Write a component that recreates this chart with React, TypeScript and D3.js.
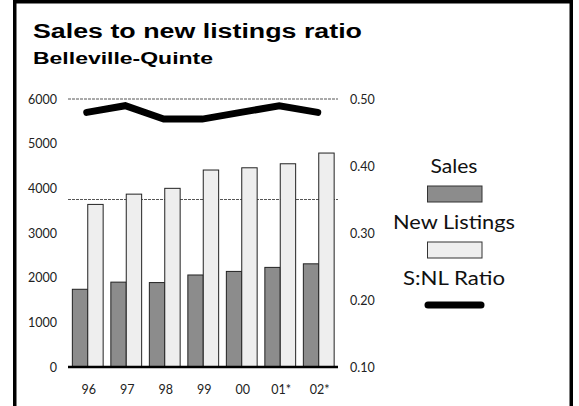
import React, { useEffect, useRef } from 'react';
import * as d3 from 'd3';

// chart data
const years = ['96', '97', '98', '99', '00', '01*', '02*'];
const sales = [1740, 1900, 1890, 2060, 2140, 2230, 2310];
const newListings = [3640, 3870, 4000, 4410, 4460, 4550, 4790];
const ratio = [0.48, 0.49, 0.47, 0.47, 0.48, 0.49, 0.48];
const leftTicks = [0, 1000, 2000, 3000, 4000, 5000, 6000];
const rightTicks = [0.1, 0.2, 0.3, 0.4, 0.5];
const refLines = [0.35, 0.5];

const W = 579;
const H = 406;
const labelFont = 'Lato, "Open Sans", sans-serif';
const titleFont = '"Liberation Sans", Arial, sans-serif';

export default function App() {
  const ref = useRef<SVGSVGElement>(null);

  useEffect(() => {
    const svg = d3.select(ref.current);
    svg.selectAll('*').remove();

    const plot = { left: 68, right: 338, top: 99, bottom: 367 };

    const x = d3
      .scaleBand()
      .domain(years)
      .range([plot.left + 0.5, plot.right])
      .paddingInner(0.2)
      .paddingOuter(0.1);
    const yLeft = d3.scaleLinear().domain([0, 6000]).range([plot.bottom, plot.top]);
    const yRight = d3.scaleLinear().domain([0.1, 0.5]).range([plot.bottom, plot.top]);

    // frame
    svg
      .append('rect')
      .attr('x', 14.75)
      .attr('y', 1.75)
      .attr('width', 556.5)
      .attr('height', 430)
      .attr('fill', 'white')
      .attr('stroke', 'black')
      .attr('stroke-width', 3.5);

    // titles (the original type is wide, so stretch to its measured width)
    svg
      .append('text')
      .attr('x', 33)
      .attr('y', 37.5)
      .attr('font-family', titleFont)
      .attr('font-weight', 'bold')
      .attr('font-size', 19.5)
      .attr('textLength', 329)
      .attr('lengthAdjust', 'spacingAndGlyphs')
      .text('Sales to new listings ratio');
    svg
      .append('text')
      .attr('x', 33)
      .attr('y', 64)
      .attr('font-family', titleFont)
      .attr('font-weight', 'bold')
      .attr('font-size', 16)
      .attr('textLength', 180)
      .attr('lengthAdjust', 'spacingAndGlyphs')
      .text('Belleville-Quinte');

    // dashed reference lines
    svg
      .selectAll('.ref')
      .data(refLines)
      .enter()
      .append('line')
      .attr('x1', plot.left)
      .attr('x2', plot.right)
      .attr('y1', d => yRight(d))
      .attr('y2', d => yRight(d))
      .attr('stroke', '#555')
      .attr('stroke-width', 1)
      .attr('stroke-dasharray', '3,1');

    // left axis labels
    svg
      .selectAll('.lt')
      .data(leftTicks)
      .enter()
      .append('text')
      .attr('x', 57)
      .attr('y', d => yLeft(d) + 4.5)
      .attr('text-anchor', 'end')
      .attr('font-family', labelFont)
      .attr('font-size', 12.5)
      .attr('fill', '#222')
      .text(d => d);

    // right axis labels
    svg
      .selectAll('.rt')
      .data(rightTicks)
      .enter()
      .append('text')
      .attr('x', 350)
      .attr('y', d => yRight(d) + 4.5)
      .attr('font-family', labelFont)
      .attr('font-size', 12.5)
      .attr('fill', '#222')
      .text(d => d3.format('.2f')(d));

    // x labels
    svg
      .selectAll('.xt')
      .data(years)
      .enter()
      .append('text')
      .attr('x', d => (x(d) as number) + x.bandwidth() / 2 + 1)
      .attr('y', 394)
      .attr('text-anchor', 'middle')
      .attr('font-family', labelFont)
      .attr('font-size', 12.5)
      .attr('fill', '#222')
      .text(d => d);

    const half = x.bandwidth() / 2;

    // bars
    const g = svg.append('g');
    g.selectAll('.sales')
      .data(years)
      .enter()
      .append('rect')
      .attr('x', d => x(d) as number)
      .attr('y', (d, i) => yLeft(sales[i]))
      .attr('width', half)
      .attr('height', (d, i) => plot.bottom - yLeft(sales[i]))
      .attr('fill', '#8c8c8c')
      .attr('stroke', '#222')
      .attr('stroke-width', 1);
    g.selectAll('.nl')
      .data(years)
      .enter()
      .append('rect')
      .attr('x', d => (x(d) as number) + half)
      .attr('y', (d, i) => yLeft(newListings[i]))
      .attr('width', half)
      .attr('height', (d, i) => plot.bottom - yLeft(newListings[i]))
      .attr('fill', '#eeeeee')
      .attr('stroke', '#222')
      .attr('stroke-width', 1);

    // baseline
    svg
      .append('line')
      .attr('x1', plot.left)
      .attr('x2', plot.right)
      .attr('y1', plot.bottom)
      .attr('y2', plot.bottom)
      .attr('stroke', 'black')
      .attr('stroke-width', 2.5);

    // ratio line
    const line = d3
      .line<number>()
      .x((d, i) => (x(years[i]) as number) + half - 1)
      .y(d => yRight(d));
    svg
      .append('path')
      .attr('d', line(ratio))
      .attr('fill', 'none')
      .attr('stroke', 'black')
      .attr('stroke-width', 7)
      .attr('stroke-linecap', 'round')
      .attr('stroke-linejoin', 'miter');

    // legend
    const lx = 454;
    const legendText = [
      { label: 'Sales', y: 173, w: 47 },
      { label: 'New Listings', y: 229, w: 122 },
      { label: 'S:NL Ratio', y: 285, w: 102 },
    ];
    svg
      .selectAll('.lg')
      .data(legendText)
      .enter()
      .append('text')
      .attr('x', d => lx - d.w / 2)
      .attr('y', d => d.y)
      .attr('font-family', labelFont)
      .attr('font-size', 19.5)
      .attr('textLength', d => d.w)
      .attr('lengthAdjust', 'spacingAndGlyphs')
      .attr('fill', '#111')
      .text(d => d.label);

    const swatches = [
      { fill: '#8c8c8c', y: 186 },
      { fill: '#eeeeee', y: 242 },
    ];
    svg
      .selectAll('.sw')
      .data(swatches)
      .enter()
      .append('rect')
      .attr('x', 427.5)
      .attr('y', d => d.y)
      .attr('width', 54.5)
      .attr('height', 16)
      .attr('fill', d => d.fill)
      .attr('stroke', '#333')
      .attr('stroke-width', 1);

    svg
      .append('line')
      .attr('x1', 428)
      .attr('x2', 481)
      .attr('y1', 305)
      .attr('y2', 305)
      .attr('stroke', 'black')
      .attr('stroke-width', 7)
      .attr('stroke-linecap', 'round');
  }, []);

  return (
    <svg
      ref={ref}
      width={W}
      height={H}
      style={{ position: 'absolute', left: 0, top: 0, background: 'white' }}
    />
  );
}
